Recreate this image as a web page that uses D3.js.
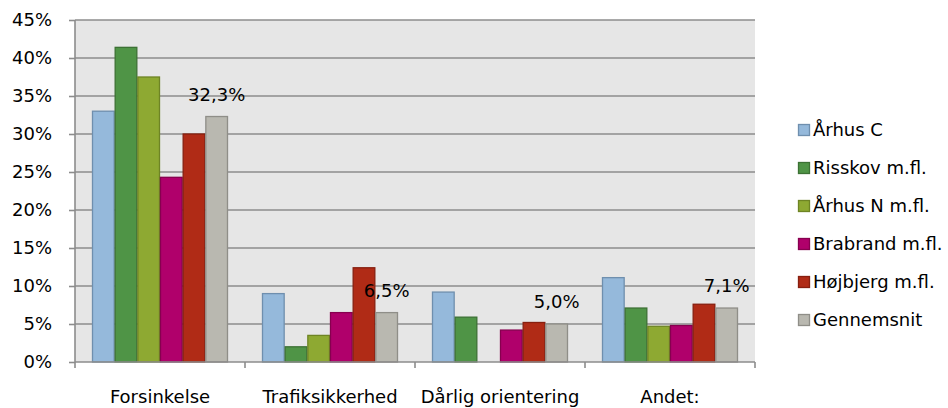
<!DOCTYPE html>
<html lang="da">
<head>
<meta charset="utf-8">
<title>Årsager</title>
<script src="https://cdn.jsdelivr.net/npm/d3@7/dist/d3.min.js"></script>
<style>
  body { margin: 0; background: #fff; }
  text { font-family: "DejaVu Sans", Verdana, sans-serif; fill: #000; }
</style>
</head>
<body>
<div id="chart"></div>
<script>
// data (percent)
var categories = ["Forsinkelse", "Trafiksikkerhed", "Dårlig orientering", "Andet:"];
var seriesNames = ["Århus C", "Risskov m.fl.", "Århus N m.fl.", "Brabrand m.fl.", "Højbjerg m.fl.", "Gennemsnit"];
var aarhusC    = [33.0, 9.0, 9.2, 11.1];
var risskov    = [41.4, 2.0, 5.9, 7.1];
var aarhusN    = [37.5, 3.5, 0, 4.7];
var brabrand   = [24.3, 6.5, 4.2, 4.8];
var hoejbjerg  = [30.0, 12.4, 5.2, 7.6];
var gennemsnit = [32.3, 6.5, 5.0, 7.1];
var yTicks = [0, 5, 10, 15, 20, 25, 30, 35, 40, 45];

var fills   = ["#95b9db", "#4f9446", "#8ea932", "#b0006b", "#b02b16", "#b9b8b0"];
var strokes = ["#6f8fae", "#3c7134", "#6e8424", "#87004f", "#871f0f", "#8f8e88"];

var series = [aarhusC, risskov, aarhusN, brabrand, hoejbjerg, gennemsnit];

var W = 948, H = 408;
var m = { left: 75, right: 193, top: 20, bottom: 46 };
var pw = W - m.left - m.right, ph = H - m.top - m.bottom;
var fs = "18px";

var svg = d3.select("#chart").append("svg").attr("width", W).attr("height", H);
var g = svg.append("g").attr("transform", "translate(" + m.left + "," + m.top + ")");

var x0 = d3.scaleBand().domain(categories).range([0, pw]).paddingInner(0).paddingOuter(0);
var x1 = d3.scaleBand().domain(d3.range(seriesNames.length))
  .range([x0.bandwidth() * 0.1, x0.bandwidth() * 0.9]);
var y = d3.scaleLinear().domain([0, 45]).range([ph, 0]);

// plot area
g.append("rect").attr("width", pw).attr("height", ph).attr("fill", "#e6e6e6");

// gridlines
g.selectAll(".grid").data(yTicks.slice(1)).enter().append("line")
  .attr("x1", 0).attr("x2", pw)
  .attr("y1", function(d) { return y(d); }).attr("y2", function(d) { return y(d); })
  .attr("stroke", "#8c8c8c").attr("stroke-width", 1.6);

// bars (zero values are not drawn)
series.forEach(function(vals, si) {
  g.append("g").selectAll("rect").data(vals).enter().append("rect")
    .attr("display", function(d) { return d > 0 ? null : "none"; })
    .attr("x", function(d, i) { return x0(categories[i]) + x1(si) + 0.5; })
    .attr("y", function(d) { return y(d); })
    .attr("width", x1.bandwidth() - 1)
    .attr("height", function(d) { return ph - y(d); })
    .attr("fill", fills[si]).attr("stroke", strokes[si]).attr("stroke-width", 1.3);
});

// labels for the average
var fmt = function(v) { return v.toFixed(1).replace(".", ",") + "%"; };
g.append("g").selectAll("text").data(gennemsnit).enter().append("text")
  .attr("x", function(d, i) { return x0(categories[i]) + x1(5) + x1.bandwidth() / 2; })
  .attr("y", function(d) { return y(d) - 16; })
  .attr("text-anchor", "middle").style("font-size", fs)
  .text(fmt);

// y axis
var yAxis = g.append("g").call(d3.axisLeft(y).tickValues(yTicks).tickSize(6).tickPadding(17)
  .tickFormat(function(d) { return d + "%"; }));
yAxis.selectAll("text").style("font-size", fs).attr("font-family", null);
yAxis.select(".domain").attr("stroke", "#8c8c8c").attr("stroke-width", 1.6).attr("d", "M0,0V" + ph);
yAxis.selectAll("line").attr("stroke", "#8c8c8c").attr("stroke-width", 1.6);

// x axis
var xAxis = g.append("g").attr("transform", "translate(0," + ph + ")")
  .call(d3.axisBottom(x0).tickSize(0).tickPadding(28));
xAxis.selectAll("text").style("font-size", fs).attr("font-family", null);
xAxis.select(".domain").attr("stroke", "#8c8c8c").attr("stroke-width", 1.6).attr("d", "M0,0H" + pw);
xAxis.selectAll(".sep").data(d3.range(categories.length + 1)).enter().append("line")
  .attr("x1", function(d) { return d * x0.bandwidth(); })
  .attr("x2", function(d) { return d * x0.bandwidth(); })
  .attr("y1", 0).attr("y2", 6)
  .attr("stroke", "#8c8c8c").attr("stroke-width", 1.6);

// legend
var leg = svg.append("g").attr("transform", "translate(798,130)");
var li = leg.selectAll("g").data(seriesNames).enter().append("g")
  .attr("transform", function(d, i) { return "translate(0," + i * 38 + ")"; });
li.append("rect").attr("x", 0.5).attr("y", -5.5).attr("width", 11).attr("height", 11)
  .attr("fill", function(d, i) { return fills[i]; })
  .attr("stroke", function(d, i) { return strokes[i]; }).attr("stroke-width", 1.3);
li.append("text").attr("x", 15).attr("dy", "0.36em").style("font-size", fs)
  .text(function(d) { return d; });
</script>
</body>
</html>
